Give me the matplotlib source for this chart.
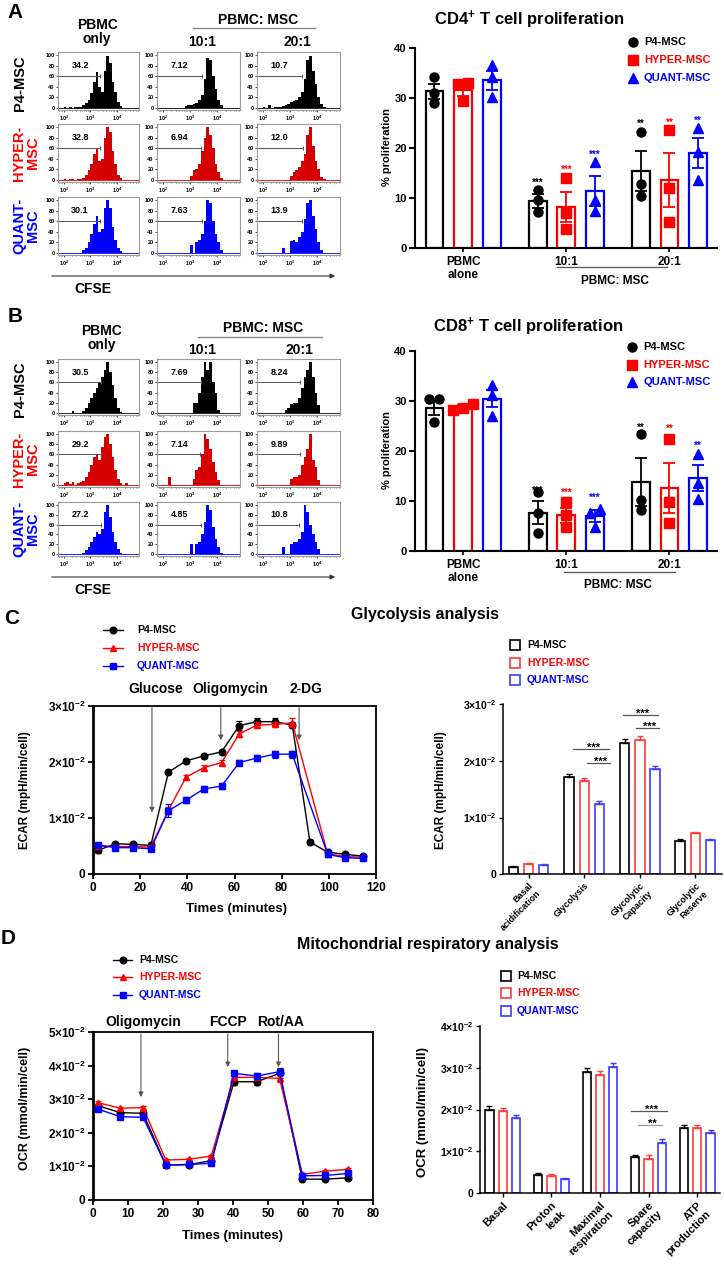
import numpy as np
import matplotlib
matplotlib.use('Agg')
import matplotlib.pyplot as plt
from matplotlib.ticker import LogLocator, NullFormatter

plt.rcParams['font.family'] = ['Liberation Sans', 'DejaVu Sans']
plt.rcParams['font.weight'] = 'bold'
plt.rcParams['mathtext.fontset'] = 'custom'
plt.rcParams['mathtext.rm'] = 'Liberation Sans:bold'
plt.rcParams['mathtext.bf'] = 'Liberation Sans:bold'
plt.rcParams['mathtext.it'] = 'Liberation Sans:bold'
plt.rcParams['mathtext.default'] = 'rm'

# ---------------------------------------------------------------- data
groups = ['P4-MSC', 'HYPER-MSC', 'QUANT-MSC']
hist_edges = np.arange(2.0, 4.41, 0.1)          # log10 CFSE bin edges

A_P4 = [[1,0,1,0,1,1,2,6,10,15,28,50,68,40,30,70,98,85,50,30,12,3,0,0],
        [0,0,0,0,0,0,0,0,4,5,6,8,10,15,25,55,95,90,60,35,15,5,0,0],
        [1,0,5,0,1,2,2,3,5,8,12,13,15,20,30,55,90,98,70,45,20,8,2,0]]
A_HYPER = [[1,0,1,1,0,1,1,3,10,18,30,50,58,35,40,80,100,90,55,30,10,3,0,0],
           [0,0,0,0,0,0,0,0,0,0,8,18,20,30,55,80,100,85,60,30,15,4,0,0],
           [0,0,0,0,0,0,0,0,0,0,8,15,18,25,35,50,85,100,65,35,20,6,1,0]]
A_QUANT = [[0,0,0,0,0,0,0,5,10,20,35,55,70,40,45,85,100,85,50,25,10,3,0,0],
           [0,0,0,0,0,0,0,0,0,0,15,0,20,25,35,60,100,95,60,35,20,5,0,0],
           [0,0,0,0,0,0,0,10,0,0,22,25,20,30,40,65,95,100,70,45,20,5,0,0]]
B_P4 = [[0,0,0,4,0,0,0,3,10,20,30,40,50,60,70,85,100,80,55,30,10,2,0,0],
        [0,0,0,0,0,0,0,0,0,0,0,20,20,40,70,100,85,100,60,40,5,0,0,0],
        [0,0,0,0,0,0,0,0,5,10,18,20,20,30,50,70,85,100,70,40,15,0,0,0]]
B_HYPER = [[3,5,2,5,0,3,5,8,15,25,40,55,60,50,75,95,100,80,55,30,12,3,0,3],
           [0,0,15,0,0,0,0,0,0,0,0,12,30,35,60,100,90,70,45,25,10,0,0,0],
           [0,0,0,0,0,0,0,0,0,0,12,15,15,20,40,55,70,100,50,35,10,0,0,0]]
B_QUANT = [[0,0,0,0,0,0,0,3,8,15,25,35,45,40,50,85,100,75,45,25,10,2,0,0],
           [0,0,0,0,0,0,0,0,0,0,20,0,20,25,40,65,100,90,55,30,15,3,0,0],
           [0,0,0,0,0,0,0,15,0,0,20,25,25,30,45,100,85,60,40,25,10,0,0,0]]

A_pct = [['34.2', '7.12', '10.7'], ['32.8', '6.94', '12.0'], ['30.1', '7.63', '13.9']]
B_pct = [['30.5', '7.69', '8.24'], ['29.2', '7.14', '9.89'], ['27.2', '4.85', '10.8']]
A_gate = [[3.35, 3.45, 3.45], [3.38, 3.41, 3.49], [3.38, 3.45, 3.45]]
B_gate = [[3.42, 3.39, 3.37], [3.39, 3.35, 3.35], [3.39, 3.39, 3.33]]

prolif_cats = ['PBMC\nalone', '10:1', '20:1']
cd4_mean = [[31.3, 9.4, 15.4], [31.5, 8.2, 13.5], [33.5, 11.3, 18.9]]
cd4_sem = [[1.5, 1.4, 4.0], [1.2, 3.0, 5.4], [1.9, 3.0, 3.0]]
cd4_pts = [[[34.1, 30.9, 29.0], [11.6, 9.6, 7.1], [23.1, 12.7, 10.4]],
           [[33.0, 32.8, 29.3], [13.9, 6.9, 3.7], [23.6, 11.9, 5.1]],
           [[36.5, 34.1, 30.1], [17.1, 9.6, 7.3], [23.9, 19.1, 13.6]]]
cd4_stars = [['', '***', '**'], ['', '***', '**'], ['', '***', '**']]
cd4_star_y = [[0, 13.6, 25.3], [0, 16.1, 25.6], [0, 19.1, 25.9]]

cd8_mean = [[28.7, 7.7, 13.9], [28.8, 7.2, 12.7], [30.5, 7.0, 14.6]]
cd8_sem = [[1.5, 2.3, 4.8], [0.4, 1.5, 5.0], [1.7, 1.2, 2.6]]
cd8_pts = [[[30.4, 30.4, 25.8], [11.9, 7.7, 3.7], [23.5, 10.2, 8.2]],
           [[29.4, 28.7, 28.3], [9.9, 7.2, 4.9], [22.5, 9.9, 5.7]],
           [[33.3, 31.2, 27.1], [8.5, 7.7, 4.9], [19.5, 13.7, 10.5]]]
cd8_stars = [['', '***', '**'], ['', '***', '**'], ['', '***', '**']]
cd8_star_y = [[0, 12.6, 25.2], [0, 12.1, 24.9], [0, 11.2, 21.5]]

ecar_time = [2, 9.5, 17, 24.5, 32, 39.5, 47, 54.5, 62, 69.5, 77, 84.5, 92, 99.5, 107, 114.5]
ecar_p4 = [0.0042, 0.0054, 0.0053, 0.0051, 0.0182, 0.0202, 0.0211, 0.0218, 0.0265, 0.0272,
           0.0272, 0.0266, 0.0057, 0.0039, 0.0035, 0.0032]
ecar_hyper = [0.0050, 0.0049, 0.0049, 0.0048, 0.0114, 0.0173, 0.0190, 0.0199, 0.0250, 0.0266,
              0.0267, 0.0270, np.nan, 0.0036, 0.0031, 0.0030]
ecar_quant = [0.0052, 0.0047, 0.0047, 0.0045, 0.0113, 0.0132, 0.0152, 0.0157, 0.0199, 0.0207,
              0.0214, 0.0214, np.nan, 0.0035, 0.0029, 0.0028]
ecar_p4_err = [0.0004, 0.0003, 0.0003, 0.0003, 0.0003, 0.0004, 0.0004, 0.0004, 0.0008, 0.0006,
               0.0006, 0.0006, 0.0003, 0.0003, 0.0003, 0.0003]
ecar_hyper_err = [0.0003, 0.0003, 0.0003, 0.0003, 0.0006, 0.0004, 0.0005, 0.0005, 0.0005, 0.0005,
                  0.0005, 0.0008, np.nan, 0.0003, 0.0003, 0.0003]
ecar_quant_err = [0.0004, 0.0003, 0.0003, 0.0003, 0.0012, 0.0005, 0.0005, 0.0006, 0.0005, 0.0006,
                  0.0006, 0.0006, np.nan, 0.0003, 0.0003, 0.0003]
ecar_inject = ['Glucose', 'Oligomycin', '2-DG']
ecar_inject_t = [25, 54.2, 87.4]
ecar_inject_end = [0.0105, 0.0234, 0.0234]
ecar_inject_label_t = [26.7, 58.0, 90.3]

ocr_time = [1.3, 7.8, 14.3, 20.8, 27.3, 33.8, 40.3, 46.8, 53.3, 59.8, 66.3, 72.8]
ocr_p4 = [0.0281, 0.0260, 0.0258, 0.0104, 0.0105, 0.0117, 0.0352, 0.0352, 0.0377, 0.0062, 0.0062, 0.0066]
ocr_hyper = [0.0290, 0.0273, 0.0275, 0.0119, 0.0121, 0.0131, 0.0365, 0.0365, 0.0362, 0.0076, 0.0086, 0.0091]
ocr_quant = [0.0271, 0.0248, 0.0246, 0.0104, 0.0106, 0.0109, 0.0377, 0.0369, 0.0382, 0.0072, 0.0073, 0.0079]
ocr_p4_err = [0.0004, 0.0004, 0.0004, 0.0003, 0.0003, 0.0003, 0.0010, 0.0010, 0.0015, 0.0003, 0.0003, 0.0003]
ocr_hyper_err = [0.0004, 0.0004, 0.0004, 0.0003, 0.0003, 0.0003, 0.0008, 0.0008, 0.0010, 0.0003, 0.0003, 0.0004]
ocr_quant_err = [0.0004, 0.0004, 0.0004, 0.0003, 0.0003, 0.0003, 0.0008, 0.0008, 0.0008, 0.0003, 0.0003, 0.0003]
ocr_inject = ['Oligomycin', 'FCCP', 'Rot/AA']
ocr_inject_t = [13.7, 38.5, 53.0]
ocr_inject_end = [0.0298, 0.0387, 0.0387]
ocr_inject_label_t = [14.3, 38.6, 53.7]

glyco_cats = ['Basal\nacidification', 'Glycolysis', 'Glycolytic\nCapacity', 'Glycolytic\nReserve']
glyco_mean = [[0.00135, 0.0172, 0.0232, 0.0059],
              [0.0019, 0.0165, 0.0237, 0.0073],
              [0.0017, 0.0124, 0.0185, 0.0060]]
glyco_sem = [[0.0001, 0.0004, 0.0006, 0.0003],
             [0.0001, 0.0005, 0.0006, 0.0002],
             [0.0001, 0.0006, 0.0006, 0.0002]]
glyco_sig_x0 = [2.93, 3.85, 6.23, 7.08]
glyco_sig_x1 = [5.30, 5.36, 8.54, 8.60]
glyco_sig_y = [0.0221, 0.0196, 0.0281, 0.0258]
glyco_sig_txt = ['***', '***', '***', '***']

mito_cats = ['Basal', 'Proton\nleak', 'Maximal\nrespiration', 'Spare\ncapacity', 'ATP\nproduction']
mito_mean = [[0.0200, 0.0044, 0.0290, 0.0087, 0.0157],
             [0.0197, 0.0041, 0.0282, 0.0083, 0.0157],
             [0.0180, 0.0033, 0.0302, 0.0121, 0.0145]]
mito_sem = [[0.0008, 0.0005, 0.0010, 0.0005, 0.0006],
            [0.0007, 0.0005, 0.0011, 0.0008, 0.0006],
            [0.0007, 0.0004, 0.0008, 0.0008, 0.0006]]
mito_sig_x0 = [9.64, 10.17]
mito_sig_x1 = [12.35, 11.97]
mito_sig_y = [0.0196, 0.0163]
mito_sig_txt = ['***', '**']

# ---------------------------------------------------------------- style
K, R, B = '#000000', '#ff0000', '#0000ff'
cols = [K, R, B]
hist_cols = ['#000000', '#d40000', '#0000ff']
bar_cols = ['#000000', '#ff3b3b', '#3b3bff']
marks = ['o', 's', '^']
line_marks = ['o', '^', 's']

W, H = 724, 1264
fig = plt.figure(figsize=(W / 100, H / 100), dpi=100)
fig.patch.set_facecolor('white')


def axes_px(x0, y0, x1, y1, **kw):
    return fig.add_axes([x0 / W, 1 - y1 / H, (x1 - x0) / W, (y1 - y0) / H], **kw)


ov = axes_px(0, 0, W, H)
ov.set_xlim(0, W)
ov.set_ylim(H, 0)
ov.axis('off')
ov.set_zorder(10)


def otext(x, y, s, **kw):
    kw.setdefault('ha', 'center')
    kw.setdefault('va', 'center')
    ov.text(x, y, s, **kw)


# ---------------------------------------------------------------- histograms
hist_x = [(58, 139), (157, 240), (257, 340)]


def draw_hist(ax, heights, color, pct, gate_end):
    ax.set_xscale('log')
    ax.stairs(heights, 10.0 ** hist_edges, fill=True, color=color, baseline=0, lw=0)
    ax.axhline(0, color=color, lw=0.6)
    ax.set_xlim(10 ** 1.79, 10 ** 4.83)
    ax.set_ylim(-4, 106)
    ax.set_xticks([1e2, 1e3, 1e4])
    ax.set_xticklabels(['10$^{2}$', '10$^{3}$', '10$^{4}$'])
    ax.xaxis.set_minor_locator(LogLocator(base=10, subs=np.arange(2, 10)))
    ax.xaxis.set_minor_formatter(NullFormatter())
    ax.set_yticks([0, 20, 40, 60, 80, 100])
    ax.tick_params(labelsize=4, length=1.5, width=0.5, pad=1)
    ax.tick_params(which='minor', length=1, width=0.4)
    for s in ax.spines.values():
        s.set_color('#9a9a9a')
        s.set_linewidth(0.8)
    ax.plot([10 ** 1.79, 10 ** gate_end], [60, 60], color='#555555', lw=0.7)
    ax.plot([10 ** gate_end], [60], marker='|', color='#555555', ms=3, mew=0.7)
    ax.text(10 ** 2.62, 80, pct, ha='center', va='center', fontsize=6.5)


def hist_panel(rows_y, data, pcts, gates):
    for r, (y0, y1) in enumerate(rows_y):
        for c, (x0, x1) in enumerate(hist_x):
            ax = axes_px(x0, y0, x1, y1)
            draw_hist(ax, data[r][c], hist_cols[r], pcts[r][c], gates[r][c])


A_rows = [(52, 110), (124, 182), (197, 255)]
B_rows = [(359, 415), (431, 487), (502, 556)]
hist_panel(A_rows, [A_P4, A_HYPER, A_QUANT], A_pct, A_gate)
hist_panel(B_rows, [B_P4, B_HYPER, B_QUANT], B_pct, B_gate)

for (hy, rows, dy) in [(0, A_rows, 0), (1, B_rows, 305)]:
    otext(15, 12 + dy, 'AB'[hy], fontsize=15)
    otext(97 + 5 * hy, 32 + dy + 1 * hy, 'PBMC\nonly', fontsize=10, linespacing=1.05)
    otext(258 + 5 * hy, 20 + dy + 3 * hy, 'PBMC: MSC', fontsize=10)
    ov.plot([193 + 5 * hy, 315 + 7 * hy], [28 + dy + 4 * hy] * 2, color='#888888', lw=1)
    otext(202, 42 + dy + 3 * hy, '10:1', fontsize=10)
    otext(297 + 2 * hy, 42 + dy + 3 * hy, '20:1', fontsize=10)
    otext(20, (rows[0][0] + rows[0][1]) / 2 + 2, 'P4-MSC', rotation=90, fontsize=10.5, color=K)
    otext(26, (rows[1][0] + rows[1][1]) / 2, 'HYPER-\nMSC', rotation=90, fontsize=10.5,
          color=R, linespacing=0.95)
    otext(26, (rows[2][0] + rows[2][1]) / 2, 'QUANT-\nMSC', rotation=90, fontsize=10.5,
          color=B, linespacing=0.95)
    ay = rows[2][1] + 21
    ov.annotate('', xy=(338, ay), xytext=(49, ay),
                arrowprops=dict(arrowstyle='-|>', color='#333333', lw=0.8, mutation_scale=7))
    otext(93, ay + 13, 'CFSE', fontsize=10)

# ---------------------------------------------------------------- proliferation bars
grp_c = np.array([0.0, 3.6, 7.2])


def spread(ys, thr=1.5, step=0.35):
    ys = np.asarray(ys, float)
    order = np.argsort(ys)
    off = np.zeros(len(ys))
    clusters = [[order[0]]]
    for k in order[1:]:
        if ys[k] - ys[clusters[-1][-1]] < thr:
            clusters[-1].append(k)
        else:
            clusters.append([k])
    for cl in clusters:
        n = len(cl)
        for j, k in enumerate(cl):
            off[k] = (j - (n - 1) / 2) * step
    return off


def prolif(ax, means, sems, pts, stars, star_y):
    for i in range(3):
        xs = grp_c + (i - 1)
        ax.bar(xs, means[i], width=0.62, facecolor='white', edgecolor=cols[i], lw=1.6, zorder=2)
        ax.errorbar(xs, means[i], yerr=sems[i], fmt='none', ecolor=cols[i], elinewidth=1.3,
                    capsize=4, capthick=1.3, zorder=3)
        for g in range(3):
            ys = pts[i][g]
            ax.plot(xs[g] + spread(ys), ys, marks[i], color=cols[i], ms=6.5, ls='none', zorder=4,
                    clip_on=False)
            if stars[i][g]:
                ax.annotate(stars[i][g], (xs[g], star_y[i][g]), xytext=(0, -4),
                            textcoords='offset points', ha='center', va='baseline',
                            fontsize=7, color=cols[i])
    ax.set_xlim(-1.68, 8.86)
    ax.set_ylim(0, 40)
    ax.set_yticks([0, 10, 20, 30, 40])
    ax.set_xticks(grp_c)
    ax.set_xticklabels(prolif_cats, fontsize=8.5, linespacing=1.1)
    ax.tick_params(axis='y', labelsize=8, length=4, width=1.5, pad=2)
    ax.tick_params(axis='x', length=3, width=1.2, pad=3)
    for s in ['top', 'right']:
        ax.spines[s].set_visible(False)
    for s in ['left', 'bottom']:
        ax.spines[s].set_linewidth(1.5)


ax4 = axes_px(415, 48, 717, 248)
prolif(ax4, cd4_mean, cd4_sem, cd4_pts, cd4_stars, cd4_star_y)
ax8 = axes_px(415, 351, 717, 551)
prolif(ax8, cd8_mean, cd8_sem, cd8_pts, cd8_stars, cd8_star_y)

otext(529, 20, 'CD4$^{+}$ T cell proliferation', fontsize=12)
otext(528, 327, 'CD8$^{+}$ T cell proliferation', fontsize=12)
otext(387, 147, '% proliferation', rotation=90, fontsize=8)
otext(387, 450, '% proliferation', rotation=90, fontsize=8)
ov.plot([557, 667], [267, 267], color='#555555', lw=0.9)
otext(615, 281, 'PBMC: MSC', fontsize=8.5)
ov.plot([564, 675], [572, 572], color='#555555', lw=0.9)
otext(618, 585, 'PBMC: MSC', fontsize=8.5)
for (mx, ys) in [(633, [42, 60, 78]), (632, [347, 365, 382])]:
    for i in range(3):
        ov.plot(mx, ys[i], marks[i], color=cols[i], ms=6.5)
        otext(mx + 11, ys[i], groups[i], ha='left', fontsize=8, color=cols[i])

# ---------------------------------------------------------------- line charts
exp_lbl = ['0', '1×10$^{-2}$', '2×10$^{-2}$', '3×10$^{-2}$', '4×10$^{-2}$', '5×10$^{-2}$']


def line_chart(ax, t, series, errs, xlim, xticks, ylim, yticks):
    for i in range(3):
        y = np.asarray(series[i], float)
        e = np.asarray(errs[i], float)
        tt = np.asarray(t, float)
        m = ~np.isnan(y)
        ax.errorbar(tt[m], y[m], yerr=e[m], color=cols[i], lw=1.0, marker=line_marks[i],
                    ms=4.8, elinewidth=0.9, capsize=2, capthick=0.9, zorder=3 + i * 0.1)
    ax.set_xlim(*xlim)
    ax.set_ylim(*ylim)
    ax.set_xticks(xticks)
    ax.set_yticks(yticks)
    ax.set_yticklabels(exp_lbl[:len(yticks)])
    ax.tick_params(labelsize=8.5, length=3.5, width=1.3, pad=2)
    for s in ax.spines.values():
        s.set_linewidth(1.3)
    ax.spines['left'].set_linewidth(2)


axc = axes_px(93, 706, 376, 874)
line_chart(axc, ecar_time, [ecar_p4, ecar_hyper, ecar_quant],
           [ecar_p4_err, ecar_hyper_err, ecar_quant_err],
           (0, 120), [0, 20, 40, 60, 80, 100, 120], (0, 0.03), [0, 0.01, 0.02, 0.03])
for name, tx, te, tl in zip(ecar_inject, ecar_inject_t, ecar_inject_end, ecar_inject_label_t):
    axc.annotate('', xy=(tx, te), xytext=(tx, 0.0302),
                 arrowprops=dict(arrowstyle='-|>', color='#555555', lw=0.8, mutation_scale=7),
                 annotation_clip=False)
    axc.text(tl, 1.1, name, transform=axc.get_xaxis_transform(), ha='center', va='center',
             fontsize=10)

axd = axes_px(93, 1032, 373, 1200)
line_chart(axd, ocr_time, [ocr_p4, ocr_hyper, ocr_quant],
           [ocr_p4_err, ocr_hyper_err, ocr_quant_err],
           (0, 80), [0, 10, 20, 30, 40, 50, 60, 70, 80], (0, 0.05),
           [0, 0.01, 0.02, 0.03, 0.04, 0.05])
for name, tx, te, tl in zip(ocr_inject, ocr_inject_t, ocr_inject_end, ocr_inject_label_t):
    axd.annotate('', xy=(tx, te), xytext=(tx, 0.0502),
                 arrowprops=dict(arrowstyle='-|>', color='#555555', lw=0.8, mutation_scale=7),
                 annotation_clip=False)
    axd.text(tl, 1.06, name, transform=axd.get_xaxis_transform(), ha='center', va='center',
             fontsize=10)

otext(12, 618, 'C', fontsize=15)
otext(8, 938, 'D', fontsize=15)
otext(425, 615, 'Glycolysis analysis', fontsize=11.5)
otext(428, 945, 'Mitochondrial respiratory analysis', fontsize=11.5)
otext(25, 790, 'ECAR (mpH/min/cell)', rotation=90, fontsize=8.5)
otext(236, 909, 'Times (minutes)', fontsize=9.5)
otext(25, 1108, 'OCR (mmol/min/cell)', rotation=90, fontsize=9)
otext(233, 1236, 'Times (minutes)', fontsize=9.5)
for (lx0, lx1, ys, tx) in [(103, 123, [630, 648, 666], 137), (113, 132, [960, 977, 995], 139)]:
    for i in range(3):
        ov.plot([lx0, lx1], [ys[i], ys[i]], color=cols[i], lw=1.0)
        ov.plot((lx0 + lx1) / 2, ys[i], line_marks[i], color=cols[i], ms=4.8)
        otext(tx, ys[i], groups[i], ha='left', fontsize=7.5, color=cols[i])

# ---------------------------------------------------------------- summary bars


def summary_bars(ax, centers, cats, means, sems, xlim, ylim, yticks, sig, xfs):
    for i in range(3):
        xs = centers + (i - 1)
        ax.bar(xs, means[i], width=0.62, facecolor='white', edgecolor=bar_cols[i], lw=1.2,
               zorder=2)
        ax.errorbar(xs, means[i], yerr=[np.zeros(len(sems[i])), sems[i]], fmt='none',
                    ecolor=bar_cols[i], elinewidth=1.0, capsize=2.5, capthick=1.0, zorder=3)
    for x0, x1, y, s, c in zip(*sig):
        ax.plot([x0, x1], [y, y], color=c, lw=0.9)
        ax.annotate(s, ((x0 + x1) / 2 + 0.15, y), xytext=(0, -1.5), textcoords='offset points',
                    ha='center', va='baseline', fontsize=8)
    ax.set_xlim(*xlim)
    ax.set_ylim(*ylim)
    ax.set_yticks(yticks)
    ax.set_yticklabels(exp_lbl[:len(yticks)])
    ax.set_xticks(centers)
    ax.set_xticklabels(cats, rotation=45, ha='right', rotation_mode='anchor', fontsize=xfs,
                       linespacing=1.25)
    ax.tick_params(axis='y', labelsize=7.5, length=3, width=1.0, pad=2)
    ax.tick_params(axis='x', length=3, width=1.0, pad=2)
    for s in ['top', 'right']:
        ax.spines[s].set_visible(False)
    for s in ['left', 'bottom']:
        ax.spines[s].set_linewidth(1.1)


axg = axes_px(503, 704, 722, 874.3)
summary_bars(axg, np.array([0.0, 3.67, 7.34, 11.0]), glyco_cats, glyco_mean, glyco_sem,
             (-1.69, 12.76), (0, 0.03), [0, 0.01, 0.02, 0.03],
             (glyco_sig_x0, glyco_sig_x1, glyco_sig_y, glyco_sig_txt, ['#555555'] * 4), 6.5)
axm = axes_px(480, 1025.7, 720, 1193.3)
summary_bars(axm, np.array([0.0, 3.65, 7.3, 10.95, 14.6]), mito_cats, mito_mean, mito_sem,
             (-1.71, 16.31), (0, 0.04), [0, 0.01, 0.02, 0.03, 0.04],
             (mito_sig_x0, mito_sig_x1, mito_sig_y, mito_sig_txt, ['#555555', '#999999']), 8)
otext(441, 790, 'ECAR (mpH/min/cell)', rotation=90, fontsize=8.5)
otext(423, 1112, 'OCR (mmol/min/cell)', rotation=90, fontsize=9.5)
for (mx, ys, tx) in [(515, [645, 663, 680], 527), (506, [976, 993, 1010.5], 517)]:
    for i in range(3):
        ov.plot(mx, ys[i], 's', mfc='white', mec=bar_cols[i], mew=1.2, ms=7.5)
        otext(tx, ys[i], groups[i], ha='left', fontsize=7.5, color=cols[i])

fig.savefig('out.png', dpi=100, facecolor='white')
